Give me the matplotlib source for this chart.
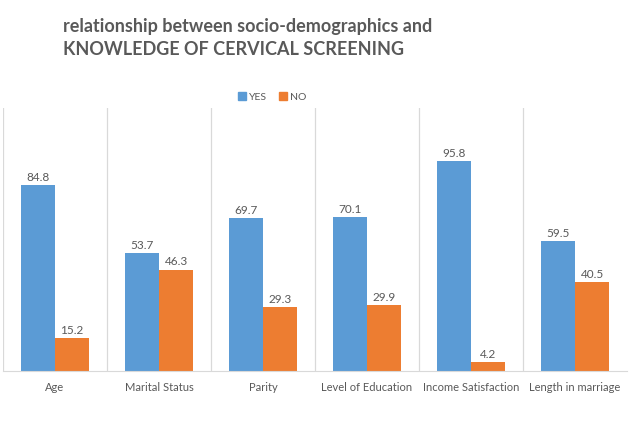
import numpy as np
import matplotlib
matplotlib.use("Agg")
import matplotlib.pyplot as plt
from matplotlib.patches import Patch

categories = ["Age", "Marital Status", "Parity", "Level of Education",
              "Income Satisfaction", "Length in marriage"]
yes_vals = [84.8, 53.7, 69.7, 70.1, 95.8, 59.5]
no_vals = [15.2, 46.3, 29.3, 29.9, 4.2, 40.5]

BLUE = "#5B9BD5"
ORANGE = "#ED7D31"
GRAY_TXT = "#595959"
GRID = "#D9D9D9"

plt.rcParams["font.family"] = ["Lato", "DejaVu Sans"]

fig = plt.figure(figsize=(6.4, 4.26), dpi=100)
ax = fig.add_axes([3 / 640, 55 / 426, 624 / 640, 263 / 426])

x = np.arange(len(categories))
w = 0.33
b1 = ax.bar(x - w / 2, yes_vals, w, color=BLUE, label="YES")
b2 = ax.bar(x + w / 2, no_vals, w, color=ORANGE, label="NO")

for bars in (b1, b2):
    for r in bars:
        ax.annotate(f"{r.get_height():.1f}", (r.get_x() + r.get_width() / 2, r.get_height()),
                    xytext=(0, 1.5), textcoords="offset points", ha="center", va="bottom",
                    fontsize=8.5, color=GRAY_TXT)

# separators between categories
for b in np.arange(-0.5, len(categories) - 0.5, 1.0):
    ax.axvline(b, color=GRID, lw=0.9, zorder=0)

ax.set_xlim(-0.5, len(categories) - 0.5)
ax.set_ylim(0, 120)
ax.set_xticks(x)
ax.set_xticklabels(categories, fontsize=8, color=GRAY_TXT)
ax.tick_params(axis="x", length=0, pad=8)
ax.set_yticks([])
for s in ("top", "right", "left"):
    ax.spines[s].set_visible(False)
ax.spines["bottom"].set_color(GRID)

fig.text(63 / 640, 1 - 18 / 426, "relationship between socio-demographics and\nKNOWLEDGE OF CERVICAL SCREENING",
         ha="left", va="top", fontsize=13, fontweight="bold", color=GRAY_TXT, linespacing=1.4)

handles = [Patch(color=BLUE, label="YES"), Patch(color=ORANGE, label="NO")]
fig.legend(handles=handles, loc="center", bbox_to_anchor=(272 / 640, 1 - 97 / 426), ncol=2,
           frameon=False, fontsize=7.5, labelcolor=GRAY_TXT, handlelength=0.8, handleheight=0.8,
           handletextpad=0.3, columnspacing=1.1)

fig.savefig("out.png", dpi=100, facecolor="white")
